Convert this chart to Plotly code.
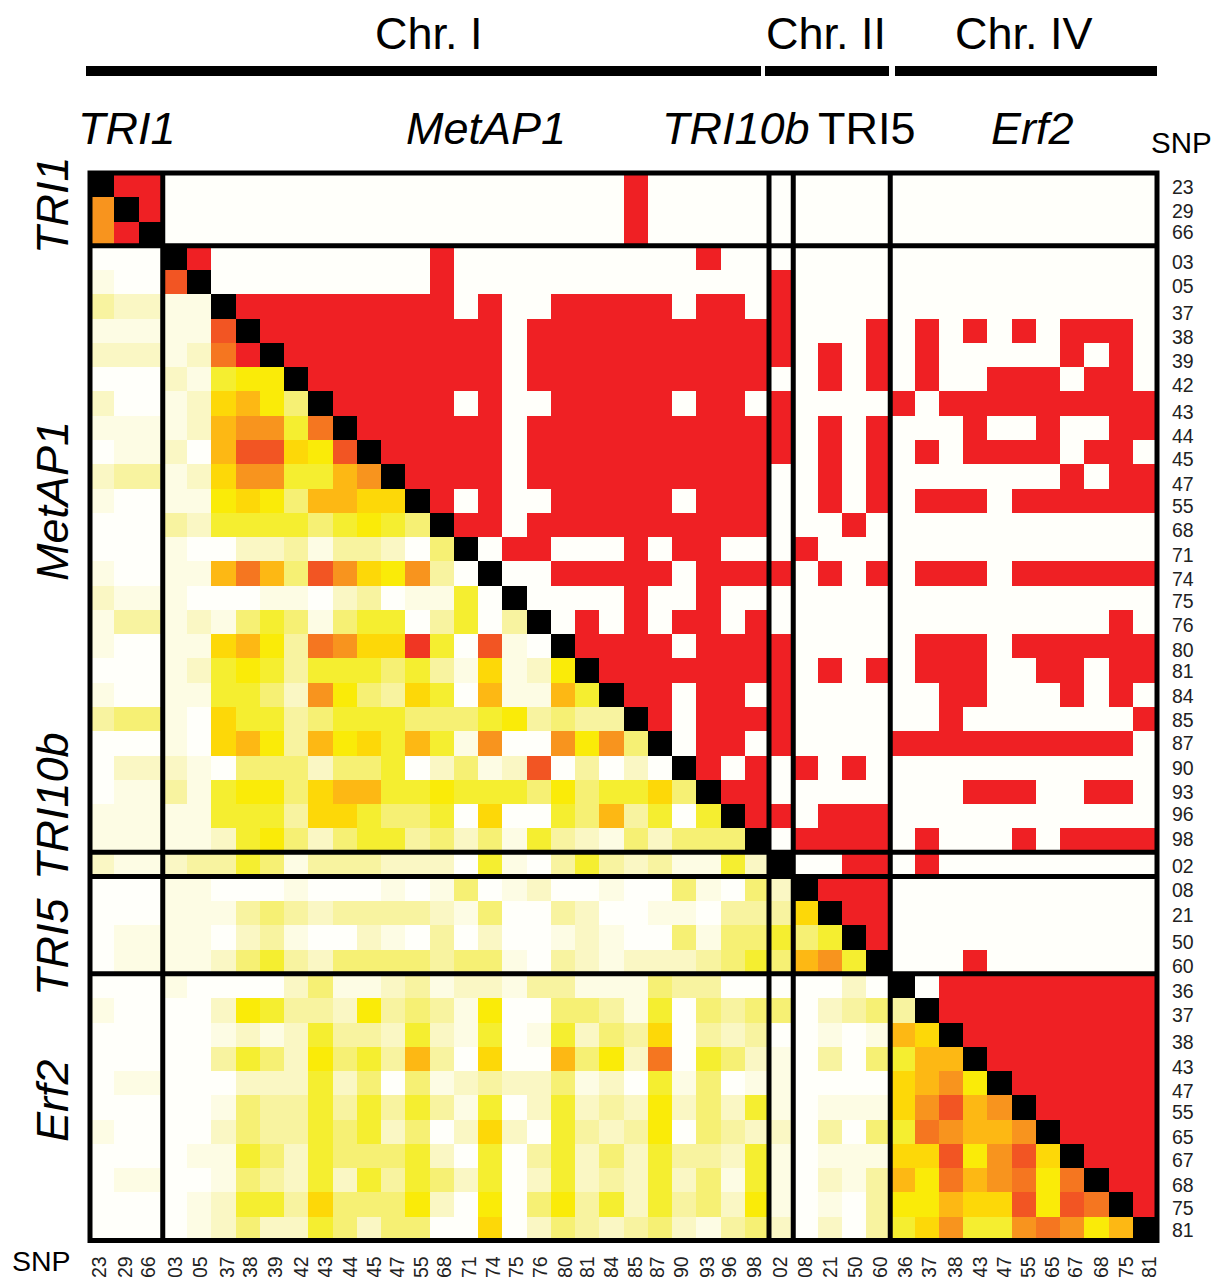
import plotly.graph_objects as go

W, H = 1213, 1277
snp_labels = ["23","29","66","03","05","37","38","39","42","43","44","45","47","55","68","71","74","75","76","80","81","84","85","87","90","93","96","98","02","08","21","50","60","36","37","38","43","47","55","65","67","68","75","81"]

# label centres in the picture (the labels are hand-placed, not exactly on cell centres)
label_x_px = [100,126,149,176,201,228,251,276,302,326,351,375,398,422,445,470,494,517,541,566,588,612,636,658,682,708,730,755,781,806,831,856,881,906,930,956,981,1005,1029,1053,1076,1102,1127,1150]
label_y_px = [187,211,232,262,286,313,337,361,385,412,436,459,484,506,530,555,579,601,625,650,671,696,720,743,768,792,814,839,866,890,915,942,966,991,1015,1042,1067,1091,1112,1137,1160,1185,1208,1230]

# lower triangle: D' class (hex digit) per row, columns 0..row-1
ld_lower = [
"",
"9",
"9 d",
"0 0 0",
"1 0 0 b",
"3 2 2 1 1",
"1 1 1 1 1 b",
"2 2 2 1 2 a d",
"0 0 0 2 1 5 6 6",
"2 0 0 1 2 7 8 6 4",
"1 1 1 1 2 8 9 9 5 a",
"0 1 1 2 0 8 b b 7 6 b",
"2 3 3 1 2 7 9 9 5 5 8 9",
"1 0 0 1 1 6 7 6 4 8 8 7 7",
"0 0 0 3 2 5 5 5 5 4 5 6 5 4",
"0 0 0 1 0 0 2 2 3 1 3 3 2 0 4",
"1 0 0 1 1 8 a 8 4 b 9 7 6 9 3 0",
"2 1 1 1 0 0 0 1 1 0 2 3 0 1 1 5 0",
"1 3 3 1 2 1 4 5 4 1 4 5 5 0 3 5 0 3",
"1 0 0 1 1 7 8 6 3 a 9 7 7 c 5 0 b 1 0",
"0 0 0 1 2 5 6 5 3 5 5 5 4 5 3 1 7 1 2 6",
"1 0 0 1 1 5 5 4 2 9 6 4 3 7 5 0 8 1 1 8 5",
"3 4 4 1 0 7 5 5 3 4 5 5 5 4 4 4 5 6 3 4 3 3",
"0 0 0 1 0 7 8 6 3 8 6 7 5 8 5 1 9 0 0 9 6 9 4",
"0 2 2 2 1 0 4 4 4 2 4 4 5 0 2 4 1 2 b 0 3 0 2 0",
"0 1 1 3 1 5 6 6 4 7 8 8 5 5 6 5 5 5 4 6 4 5 5 7 4",
"1 1 1 1 1 5 5 5 3 7 7 5 4 4 5 0 7 0 0 5 4 8 3 5 0 5",
"1 1 1 1 1 2 5 6 4 2 4 5 5 3 4 2 4 1 5 3 2 1 4 2 4 4 4",
"2 1 1 2 3 3 5 4 1 3 3 3 2 2 2 0 5 1 0 3 5 3 2 3 1 1 5 2",
"0 0 0 1 1 0 0 0 1 0 0 0 1 0 1 4 0 1 2 0 0 1 0 0 4 1 0 4 2",
"0 0 0 1 1 1 3 4 3 2 3 3 3 3 2 1 4 0 0 3 2 0 0 1 1 0 3 3 3 7",
"0 1 1 1 1 0 2 3 1 0 0 2 1 0 3 0 2 0 0 1 2 1 0 0 4 1 4 4 5 4 5",
"0 1 1 1 1 2 4 5 3 2 4 4 4 4 3 4 4 1 0 3 2 1 2 2 2 3 4 5 4 8 9 5",
"0 0 0 1 0 0 0 0 2 4 1 1 2 3 1 2 2 1 3 3 1 1 1 4 3 3 0 0 0 0 0 2 0",
"1 0 0 0 0 2 6 5 3 3 2 6 3 4 3 1 6 0 0 4 4 3 1 5 0 4 3 4 4 0 2 3 4 3",
"0 0 0 0 0 1 2 1 2 5 3 3 2 5 2 1 5 0 1 5 2 4 3 7 0 3 2 3 0 0 1 0 1 8 7",
"0 0 0 0 0 3 5 4 2 6 4 5 3 8 3 0 7 0 0 8 4 6 2 a 0 5 4 2 1 0 3 0 4 5 8 8",
"0 1 1 0 0 0 2 2 2 5 2 4 0 4 1 2 3 2 2 4 1 2 0 5 1 4 0 1 1 0 0 0 0 7 8 9 6",
"0 0 0 0 0 1 4 3 3 5 3 5 3 5 3 1 5 0 2 5 2 3 2 6 2 4 2 5 1 0 1 1 1 7 9 b 8 9",
"1 0 0 0 0 2 4 3 3 5 4 5 2 4 0 2 7 2 0 5 3 2 3 6 0 4 3 2 2 0 3 0 4 5 a 9 8 8 9",
"0 0 0 0 1 1 5 4 2 5 4 4 4 5 2 0 5 0 3 5 2 4 2 5 3 3 2 5 1 0 1 1 1 7 7 b 6 9 b 7",
"0 1 1 0 0 1 4 3 2 5 2 5 3 5 4 2 5 0 2 5 2 3 2 5 2 4 1 5 1 0 2 1 3 8 6 a 8 9 a 6 a",
"0 0 0 0 1 2 5 5 3 7 4 4 4 6 2 0 6 0 4 6 3 5 2 5 3 4 2 6 1 0 1 0 3 6 6 8 7 7 b 6 b a",
"0 0 0 0 1 2 4 2 2 5 4 2 4 4 0 0 7 0 2 4 3 2 3 4 2 1 3 4 2 0 2 0 3 5 7 9 5 5 9 a 9 6 8",
]

# upper triangle: columns flagged significant (red) per row
sig_cols = ["1-2,22","2,22","22","4,14,25","14,28","6-14,16,19-23,25-26,28",
"7-16,18-28,32,34,36,38,40-42","8-16,18-28,30,32,34,40,42","9-16,18-27,30,32,34,37-39,41-42",
"10-14,16,19-23,25-26,28,33,35-43","11-16,18-28,30,32,36,39,42-43","12-16,18-28,30,32,34,36-39,41-42",
"13-16,18-27,30,32,40,42-43","14,16,19-23,25-27,30,32,34-36,38-43","15-16,18-27,31","17-18,22,24-25,29",
"19-23,25-28,30,32,34-36,38-43","22,25","20,22,24-25,27,42","20-23,25-28,34-36,38-43",
"21-28,30,32,34-36,39-40,42-43","22-23,25-26,28,35-36,40,42","23,25-28,35,43","25-26,28,33-42",
"25,27,29,31","26-27,36-38,41-42","27-28,30-32","29-32,34,38,40-43","31-32,34","30-32","31-32","32","36",
"35-43","35-43","36-43","37-43","38-43","39-43","40-43","41-43","42-43","43",""]

palette = ["#FFFFFA","#FDFCE4","#FAF7C4","#F8F3A0","#F6F074","#F5EE30","#FAEB08","#FDD808",
           "#FDB814","#F8941E","#F57620","#F25523","#F03623","#EF2024","#000000"]
group_breaks = [3, 28, 29, 33]

n = len(snp_labels)
z = [[0]*n for _ in range(n)]
for r in range(n):
    z[r][r] = 14
    row = ld_lower[r].split()
    assert len(row) == r, (r, len(row))
    for c, ch in enumerate(row):
        z[r][c] = int(ch, 16)
    for part in filter(None, sig_cols[r].split(",")):
        a, _, b = part.partition("-")
        for c in range(int(a), int(b or a)+1):
            z[r][c] = 13

steps = []
for i, col in enumerate(palette):
    steps += [[i/15, col], [(i+1)/15, col]]

fig = go.Figure(go.Heatmap(z=z, x=list(range(n)), y=list(range(n)), zmin=0, zmax=15, xgap=0, ygap=0,
                           colorscale=steps, showscale=False, hoverinfo="skip"))
L, R, T, B = 90, 1157, 173, 1240.5
px = lambda v: v/W
py = lambda v: 1-v/H
cell_w = (R-L)/n
cell_h = (B-T)/n
tick = dict(size=19.5, color="#222222", family="Liberation Sans, Arial, sans-serif")
fig.update_layout(width=W, height=H, autosize=False, margin=dict(l=0,r=0,t=0,b=0,autoexpand=False), paper_bgcolor="white", plot_bgcolor="white",
    font=dict(family="Liberation Sans, Arial, sans-serif", color="black"),
    xaxis=dict(domain=[px(L),px(R)], range=[-0.5,n-0.5], tickvals=[(v-L)/cell_w-0.5 for v in label_x_px], ticktext=snp_labels, tickangle=-90,
               side="bottom", ticks="", showgrid=False, zeroline=False, tickfont=tick, ticklabelstandoff=11, anchor="y", showline=False),
    yaxis=dict(domain=[py(B),py(T)], range=[n-0.5,-0.5], tickvals=[(v-T)/cell_h-0.5 for v in label_y_px], ticktext=snp_labels,
               side="right", ticks="", showgrid=False, zeroline=False, tickfont=tick, ticklabelstandoff=14, anchor="x", showline=False))
shapes = []
for b in group_breaks:
    shapes.append(dict(type="line", xref="x", yref="paper", x0=b-0.5, x1=b-0.5, y0=py(B), y1=py(T), line=dict(color="black", width=5)))
    shapes.append(dict(type="line", xref="paper", yref="y", y0=b-0.5, y1=b-0.5, x0=px(L), x1=px(R), line=dict(color="black", width=5)))
shapes.append(dict(type="rect", xref="paper", yref="paper", x0=px(L), x1=px(R), y0=py(B), y1=py(T), line=dict(color="black", width=5)))
for x0, x1 in [(86,761),(765,889),(895,1157)]:
    shapes.append(dict(type="rect", xref="paper", yref="paper", x0=px(x0), x1=px(x1), y0=py(76), y1=py(66), fillcolor="black", line=dict(width=0)))
fig.update_layout(shapes=shapes)

def txt(s, x, y, size=45, angle=0, **kw):
    fig.add_annotation(text=s, x=px(x), y=py(y), xref="paper", yref="paper", showarrow=False,
                       font=dict(size=size, color="black"), textangle=angle, xanchor="center", yanchor="middle", **kw)
txt("Chr. I", 429, 33); txt("Chr. II", 826, 33); txt("Chr. IV", 1024, 33)
txt("<i>TRI1</i>", 127, 128); txt("<i>MetAP1</i>", 486, 128); txt("<i>TRI10b</i>", 736, 128)
txt("TRI5", 867, 128); txt("<i>Erf2</i>", 1032, 128)
txt("SNP", 1181, 142, 29.5); txt("SNP", 41, 1261, 28.5)
txt("<i>TRI1</i>", 52, 205, 45, -90); txt("<i>MetAP1</i>", 52, 501, 45, -90); txt("<i>TRI10b</i>", 52, 806, 45, -90)
txt("<i>TRI5</i>", 52, 947, 45, -90); txt("<i>Erf2</i>", 52, 1101, 45, -90)
fig.write_html("out.html", config={"displayModeBar": False}, post_script="document.body.style.margin='0';document.body.style.overflow='hidden';")
